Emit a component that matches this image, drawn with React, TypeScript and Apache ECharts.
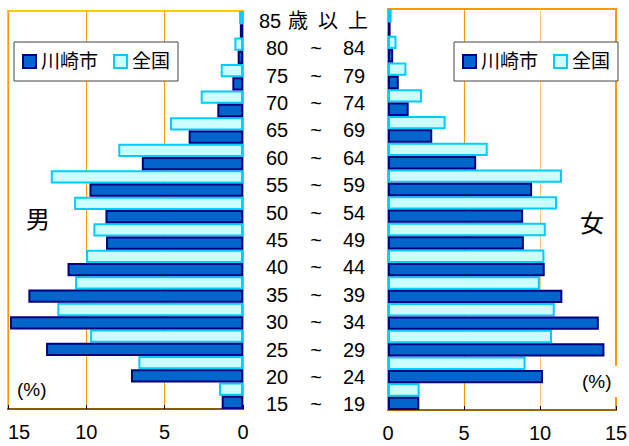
import React, { useEffect, useRef } from "react";
import * as echarts from "echarts";

const ageLabels = [
  "15~19", "20~24", "25~29", "30~34", "35~39", "40~44", "45~49", "50~54",
  "55~59", "60~64", "65~69", "70~74", "75~79", "80~84", "85歳以上",
];
const maleKawasaki = [1.36, 7.15, 12.57, 14.87, 13.7, 11.2, 8.74, 8.78, 9.8, 6.46, 3.47, 1.64, 0.68, 0.34, 0.2];
const maleNational = [1.53, 6.68, 9.76, 11.85, 10.72, 10.02, 9.55, 10.78, 12.27, 7.96, 4.66, 2.7, 1.42, 0.55, 0.25];
const femaleKawasaki = [2.06, 10.2, 14.24, 13.87, 11.47, 10.31, 8.94, 8.89, 9.48, 5.8, 2.91, 1.36, 0.71, 0.34, 0.17];
const femaleNational = [2.08, 9.05, 10.79, 10.97, 9.99, 10.29, 10.38, 11.12, 11.45, 6.56, 3.79, 2.24, 1.21, 0.56, 0.24];
const seriesNames = ["川崎市", "全国"];
const xTicks = [0, 5, 10, 15];

const FONT = 'Arial, "Liberation Sans", "Noto Sans CJK JP", sans-serif';

export default function App() {
  const ref = useRef<HTMLDivElement>(null);
  useEffect(() => {
    if (!ref.current) return;
    const chart = echarts.init(ref.current, undefined, { renderer: "svg" });
    const kawasakiStyle = { color: "#0066CC", borderColor: "#000080", borderWidth: 2 };
    const nationalStyle = { color: "#CCFFFF", borderColor: "#00CCFF", borderWidth: 2 };
    const valueAxis = (gridIndex: number, inverse: boolean, splitColors: string[], lineColor: string) => ({
      type: "value",
      gridIndex,
      inverse,
      min: xTicks[0],
      max: xTicks[xTicks.length - 1],
      interval: 5,
      axisLine: { show: true, onZero: false, lineStyle: { color: lineColor, width: 2 } },
      axisTick: { show: true, inside: true, length: 4, lineStyle: { color: "#000", width: 1 } },
      axisLabel: {
        fontSize: 20, color: "#000", fontFamily: FONT, margin: 13,
        alignMaxLabel: inverse ? "left" : "center",
      },
      splitLine: { show: true, lineStyle: { color: splitColors, width: 1 } },
    });
    const catAxis = (gridIndex: number) => ({
      type: "category",
      gridIndex,
      data: ageLabels,
      axisLine: { show: false },
      axisTick: { show: false },
      axisLabel: { show: false },
    });
    const legendBase = {
      data: seriesNames,
      orient: "horizontal",
      itemWidth: 13,
      itemHeight: 13,
      itemGap: 15,
      backgroundColor: "#fff",
      borderColor: "#444",
      borderWidth: 1,
      borderRadius: 0,
      padding: [10, 8, 10, 8],
      textStyle: { fontSize: 19, color: "#000", fontFamily: FONT },
      icon: "rect",
      selectedMode: false,
    };
    chart.setOption({
      animation: false,
      backgroundColor: "#fff",
      grid: [
        { left: 8, width: 235, top: 11, height: 398, show: true, borderColor: "#FFCC00", borderWidth: 2, backgroundColor: "transparent", outerBoundsMode: "none", containLabel: false },
        { left: 388, width: 228, top: 9, height: 401, show: true, borderColor: "#FF9900", borderWidth: 2, backgroundColor: "transparent", outerBoundsMode: "none", containLabel: false },
        { left: 243, width: 145, top: 7, height: 411, outerBoundsMode: "none", containLabel: false },
      ],
      xAxis: [
        valueAxis(0, true, ["#FF9900", "#FF9900", "#FF9900", "#FF9900"], "#806000"),
        valueAxis(1, false, ["#FF9900", "#FF9900", "#FFC870", "#FF9900"], "#996600"),
        { type: "value", gridIndex: 2, show: false, min: 0, max: 1 },
      ],
      yAxis: [
        catAxis(0),
        catAxis(1),
        {
          type: "category",
          gridIndex: 2,
          data: ageLabels,
          axisLine: { show: false },
          axisTick: { show: false },
          splitLine: { show: false },
          axisLabel: {
            inside: true,
            margin: 72,
            align: "center",
            fontSize: 20,
            color: "#000",
            fontFamily: FONT,
            formatter: (v: string) => {
              if (v.indexOf("~") >= 0) {
                const [a, b] = v.split("~");
                return `{a|${a}}{b|~}{c|${b}}`;
              }
              const num = v.slice(0, 2);
              const rest = v.slice(2).split("");
              return `{n|${num}}` + rest.map((ch) => `{k|${ch}}`).join("");
            },
            rich: {
              a: { width: 40, align: "center", fontSize: 20, fontFamily: FONT, color: "#000" },
              b: { width: 38, align: "center", fontSize: 20, fontFamily: FONT, color: "#000" },
              c: { width: 38, align: "center", fontSize: 20, fontFamily: FONT, color: "#000" },
              n: { width: 26, align: "center", fontSize: 20, fontFamily: FONT, color: "#000" },
              k: { width: 30, align: "center", fontSize: 20, fontFamily: FONT, color: "#000" },
            },
          },
        },
      ],
      legend: [
        { ...legendBase, left: 14, top: 42 },
        { ...legendBase, left: 454, top: 42 },
      ],
      series: [
        { name: "全国", type: "bar", xAxisIndex: 0, yAxisIndex: 0, data: maleNational, itemStyle: nationalStyle, barGap: "0%", barCategoryGap: "0%" },
        { name: "川崎市", type: "bar", xAxisIndex: 0, yAxisIndex: 0, data: maleKawasaki, itemStyle: kawasakiStyle, barGap: "0%", barCategoryGap: "0%" },
        { name: "全国", type: "bar", xAxisIndex: 1, yAxisIndex: 1, data: femaleNational, itemStyle: nationalStyle, barGap: "0%", barCategoryGap: "0%" },
        { name: "川崎市", type: "bar", xAxisIndex: 1, yAxisIndex: 1, data: femaleKawasaki, itemStyle: kawasakiStyle, barGap: "0%", barCategoryGap: "0%" },
      ],
      graphic: [
        { type: "text", left: 26, top: 207, z: 100, style: { text: "男", fontSize: 24, fill: "#000", fontFamily: FONT } },
        { type: "text", left: 580, top: 211, z: 100, style: { text: "女", fontSize: 24, fill: "#000", fontFamily: FONT } },
        { type: "text", left: 17, top: 380, z: 100, style: { text: "(%)", fontSize: 19, fill: "#000", fontFamily: FONT } },
        { type: "text", left: 578, top: 366, z: 100, style: { text: "(%)", fontSize: 19, fill: "#000", fontFamily: FONT, backgroundColor: "#fff", padding: [6, 8, 6, 4] } },
      ],
    });
    return () => chart.dispose();
  }, []);
  return <div ref={ref} style={{ width: 629, height: 446, position: "absolute", left: 0, top: 0 }} />;
}
